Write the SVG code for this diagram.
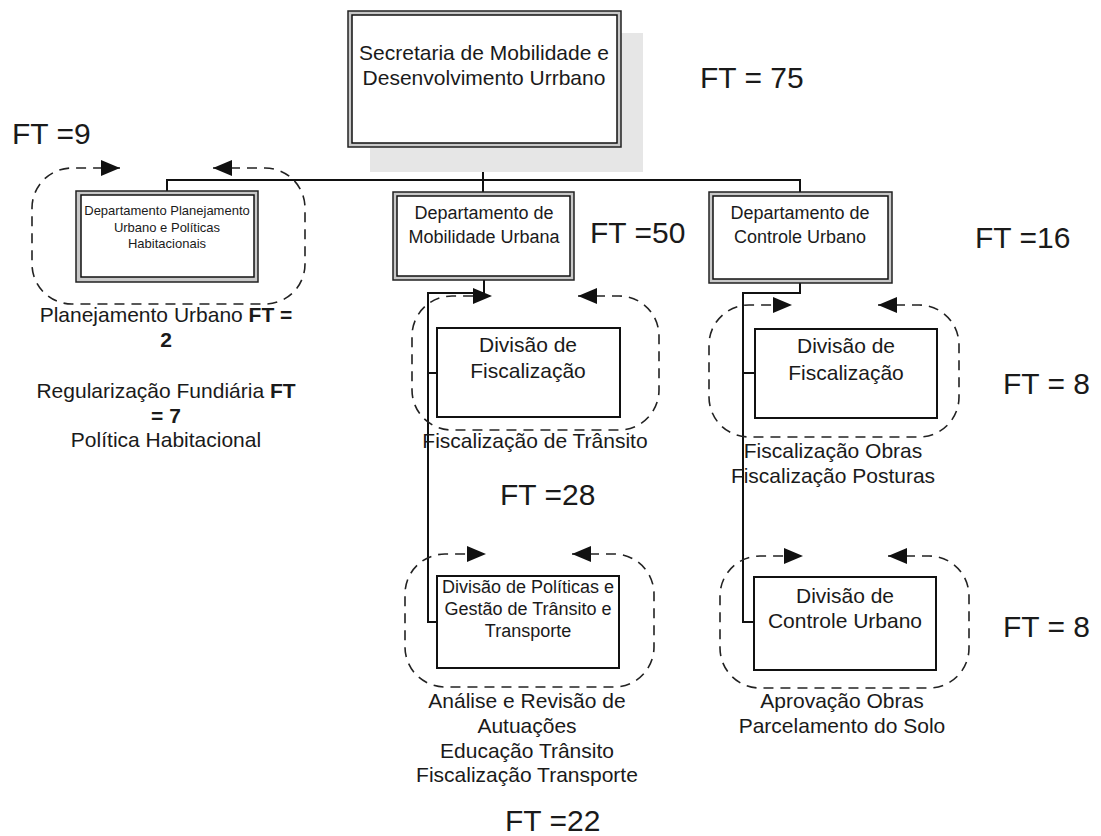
<svg xmlns="http://www.w3.org/2000/svg" width="1101" height="836" viewBox="0 0 1101 836">
<style>
text{font-family:"Liberation Sans",Arial,sans-serif;fill:#1a1a1a}
.c{text-anchor:middle}
.t21{font-size:21px}
.t18{font-size:18px}
.t13{font-size:13px}
.ft{font-size:30px}
.b{font-weight:bold}
.outer{fill:#c8c8c8;stroke:#222;stroke-width:1.5}
.inner{fill:#fff;stroke:#111;stroke-width:1.5}
.div{fill:#fff;stroke:#111;stroke-width:2}
.conn{fill:none;stroke:#111;stroke-width:2}
.loop{fill:none;stroke:#222;stroke-width:1.6;stroke-dasharray:10 7;marker-start:url(#ah);marker-end:url(#ah)}
</style>
<defs>
<marker id="ah" markerUnits="userSpaceOnUse" viewBox="0 0 20 16" markerWidth="20" markerHeight="16" refX="19" refY="8" orient="auto-start-reverse">
<path d="M0,0 L19,8 L0,16 z" fill="#111"/>
</marker>
</defs>
<rect width="1101" height="836" fill="#fff"/>

<g id="connectors">
<path class="conn" d="M483 147 V192"/>
<path class="conn" d="M167 191 V180 H800 V192"/>
<path class="conn" d="M484 280 V293 H428 V622 H437"/>
<path class="conn" d="M428 373 H437"/>
<path class="conn" d="M800 283 V293 H743 V622 H754"/>
<path class="conn" d="M743 373 H755"/>
</g>

<g id="loops">
<path class="loop" d="M213 168 H265 A40 40 0 0 1 305 208 V264 A40 40 0 0 1 265 304 H72 A40 40 0 0 1 32 264 V208 A40 40 0 0 1 72 168 H120"/>
<path class="loop" d="M578 296 H619 A40 40 0 0 1 659 336 V390 A40 40 0 0 1 619 430 H452 A40 40 0 0 1 412 390 V336 A40 40 0 0 1 452 296 H492"/>
<path class="loop" d="M572 554 H614 A40 40 0 0 1 654 594 V647 A40 40 0 0 1 614 687 H445 A40 40 0 0 1 405 647 V594 A40 40 0 0 1 445 554 H486"/>
<path class="loop" d="M878 305 H919 A40 40 0 0 1 959 345 V397 A40 40 0 0 1 919 437 H749 A40 40 0 0 1 709 397 V345 A40 40 0 0 1 749 305 H792"/>
<path class="loop" d="M888 556 H929 A40 40 0 0 1 969 596 V648 A40 40 0 0 1 929 688 H760 A40 40 0 0 1 720 648 V596 A40 40 0 0 1 760 556 H803"/>
</g>

<g id="secretaria">
<rect x="370" y="33" width="273" height="139" fill="#e6e6e6"/>
<rect class="outer" x="348" y="11" width="273" height="136"/>
<rect class="inner" x="352" y="15" width="265" height="128"/>
<text class="c t21" x="484" y="60">Secretaria de Mobilidade e</text>
<text class="c t21" x="484" y="85">Desenvolvimento Urrbano</text>
</g>

<g id="dept-planejamento">
<rect class="outer" x="76" y="191" width="182" height="91"/>
<rect class="inner" x="81" y="195" width="173" height="82"/>
<text class="c t13" x="167" y="215">Departamento Planejamento</text>
<text class="c t13" x="167" y="232">Urbano e Políticas</text>
<text class="c t13" x="167" y="248">Habitacionais</text>
</g>

<g id="dept-mobilidade">
<rect class="outer" x="393" y="192" width="181" height="88"/>
<rect class="inner" x="397" y="196" width="173" height="80"/>
<text class="c t18" x="484" y="219">Departamento de</text>
<text class="c t18" x="484" y="243">Mobilidade Urbana</text>
</g>

<g id="dept-controle">
<rect class="outer" x="709" y="192" width="183" height="91"/>
<rect class="inner" x="713" y="196" width="175" height="83"/>
<text class="c t18" x="800" y="219">Departamento de</text>
<text class="c t18" x="800" y="243">Controle Urbano</text>
</g>

<g id="div-fiscalizacao-mob">
<rect class="div" x="437" y="328" width="183" height="89"/>
<text class="c t21" x="528" y="352">Divisão de</text>
<text class="c t21" x="528" y="378">Fiscalização</text>
</g>

<g id="div-politicas">
<rect class="div" x="437" y="576" width="182" height="92"/>
<text class="c t18" x="528" y="593">Divisão de Políticas e</text>
<text class="c t18" x="528" y="615">Gestão de Trânsito e</text>
<text class="c t18" x="528" y="637">Transporte</text>
</g>

<g id="div-fiscalizacao-ctrl">
<rect class="div" x="755" y="329" width="182" height="89"/>
<text class="c t21" x="846" y="353">Divisão de</text>
<text class="c t21" x="846" y="380">Fiscalização</text>
</g>

<g id="div-controle">
<rect class="div" x="754" y="577" width="182" height="93"/>
<text class="c t21" x="845" y="603">Divisão de</text>
<text class="c t21" x="845" y="628">Controle Urbano</text>
</g>

<g id="descriptions">
<text class="c t21" x="166" y="322">Planejamento Urbano <tspan class="b">FT =</tspan></text>
<text class="c t21 b" x="166" y="347">2</text>
<text class="c t21" x="166" y="398">Regularização Fundiária <tspan class="b">FT</tspan></text>
<text class="c t21 b" x="166" y="423">= 7</text>
<text class="c t21" x="166" y="447">Política Habitacional</text>
<text class="c t21" x="535" y="448">Fiscalização de Trânsito</text>
<text class="c t21" x="527" y="708">Análise e Revisão de</text>
<text class="c t21" x="527" y="733">Autuações</text>
<text class="c t21" x="527" y="758">Educação Trânsito</text>
<text class="c t21" x="527" y="782">Fiscalização Transporte</text>
<text class="c t21" x="833" y="458">Fiscalização Obras</text>
<text class="c t21" x="833" y="483">Fiscalização Posturas</text>
<text class="c t21" x="842" y="708">Aprovação Obras</text>
<text class="c t21" x="842" y="733">Parcelamento do Solo</text>
</g>

<g id="ft-labels">
<text class="ft" x="700" y="88">FT = 75</text>
<text class="ft" x="12" y="144">FT =9</text>
<text class="ft" x="590" y="243">FT =50</text>
<text class="ft" x="975" y="248">FT =16</text>
<text class="ft" x="500" y="505">FT =28</text>
<text class="ft" x="1003" y="394">FT = 8</text>
<text class="ft" x="1003" y="637">FT = 8</text>
<text class="ft" x="505" y="831">FT =22</text>
</g>
</svg>
